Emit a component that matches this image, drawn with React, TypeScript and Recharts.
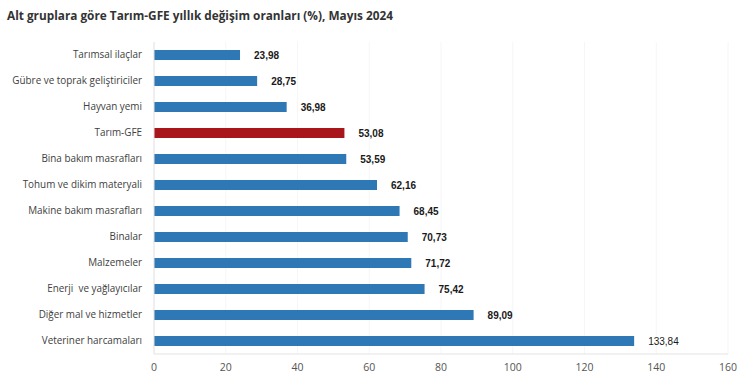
import React from "react";
import { BarChart, Bar, XAxis, YAxis, CartesianGrid, LabelList, Cell } from "recharts";

const categories = [
  "Tarımsal ilaçlar",
  "Gübre ve toprak geliştiriciler",
  "Hayvan yemi",
  "Tarım-GFE",
  "Bina bakım masrafları",
  "Tohum ve dikim materyali",
  "Makine bakım masrafları",
  "Binalar",
  "Malzemeler",
  "Enerji  ve yağlayıcılar",
  "Diğer mal ve hizmetler",
  "Veteriner harcamaları",
];
const values = [23.98, 28.75, 36.98, 53.08, 53.59, 62.16, 68.45, 70.73, 71.72, 75.42, 89.09, 133.84];
const xTicks = [0, 20, 40, 60, 80, 100, 120, 140, 160];
const highlight = "Tarım-GFE";
const title = "Alt gruplara göre Tarım-GFE yıllık değişim oranları (%), Mayıs 2024";

const data = categories.map((name, i) => ({ name, value: values[i] }));

const FONT = "'Open Sans', 'Noto Sans', sans-serif";

const ValueLabel = (props: any) => {
  const { x, y, width, height, value, index } = props;
  const last = index === values.length - 1;
  return (
    <text
      x={x + width + 14}
      y={y + height / 2}
      dy="0.35em"
      fontFamily="'Liberation Sans', Arial, sans-serif"
      fontSize={10}
      fontWeight={last ? 400 : 700}
      fill="#1a1a1a"
    >
      {Number(value).toFixed(2).replace(".", ",")}
    </text>
  );
};

const CategoryTick = (props: any) => {
  const { x, y, payload } = props;
  return (
    <text
      x={x - 4}
      y={y}
      dy="0.35em"
      textAnchor="end"
      fontFamily={FONT}
      fontSize={9.9}
      fill="#404040"
      style={{ whiteSpace: "pre" }}
    >
      {payload.value}
    </text>
  );
};

export default function App() {
  return (
    <div style={{ position: "fixed", left: 0, top: 0, width: 750, height: 389, background: "#fff" }}>
      <div
        style={{
          position: "absolute",
          left: 7,
          top: 7,
          fontFamily: FONT,
          fontWeight: 700,
          fontSize: 11.8,
          color: "#333",
          whiteSpace: "nowrap",
        }}
      >
        {title}
      </div>
      <BarChart
        width={750}
        height={389}
        data={data}
        layout="vertical"
        margin={{ top: 42, right: 22, bottom: 5, left: 0 }}
        barCategoryGap={8}
      >
        <CartesianGrid horizontal={false} stroke="#f6f6f6" />
        <XAxis
          type="number"
          domain={[0, 160]}
          ticks={xTicks}
          interval={0}
          tickLine={false}
          axisLine={{ stroke: "#e3e3e3" }}
          tickMargin={4}
          height={30}
          tick={{ fontSize: 10.5, fill: "#555", fontFamily: FONT }}
        />
        <YAxis
          type="category"
          dataKey="name"
          width={154}
          interval={0}
          tickLine={false}
          axisLine={{ stroke: "#e3e3e3" }}
          tick={<CategoryTick />}
        />
        <Bar dataKey="value" barSize={10} isAnimationActive={false}>
          {data.map((d) => (
            <Cell key={d.name} fill={d.name === highlight ? "#A8161B" : "#2E78B5"} />
          ))}
          <LabelList dataKey="value" content={<ValueLabel />} />
        </Bar>
      </BarChart>
    </div>
  );
}
